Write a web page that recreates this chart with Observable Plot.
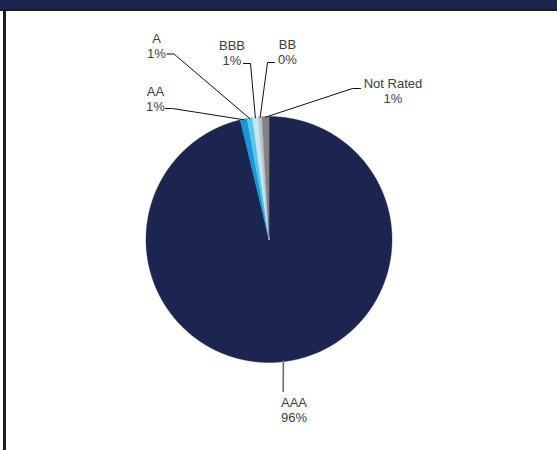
<!DOCTYPE html>
<html><head><meta charset="utf-8">
<script src="https://cdn.jsdelivr.net/npm/d3@7"></script>
<script src="https://cdn.jsdelivr.net/npm/@observablehq/plot@0.6"></script>
<style>
html,body{margin:0;padding:0;background:#fff;}
#wrap{position:relative;width:557px;height:450px;overflow:hidden;}
#chart{position:absolute;left:0;top:0;}
#band{position:absolute;left:0;top:0;width:557px;height:9px;background:#1b2550;}
#rule{position:absolute;left:0;top:9px;width:557px;height:2px;background:#1e1e1e;}
#leftrule{position:absolute;left:3px;top:9px;width:3px;height:441px;background:#1e1e1e;}
</style></head><body>
<div id="wrap"><div id="chart"></div><div id="band"></div><div id="rule"></div><div id="leftrule"></div></div>
<script>
// ---- data ----
const categories = ["AAA", "AA", "A", "BBB", "BB", "Not Rated"];
const shares = [96.25, 0.9, 0.7, 0.75, 0.49, 0.91];
const colors = ["#1b2550", "#0f9ad8", "#5ec2ec", "#c6e6f6", "#bfc0c2", "#808184"];

// ---- layout (pixel offsets from the pie centre) ----
const R = 123, CX = 268.5, CY = 239;
const labelOffset = {
  "AAA": [25, 170], "AA": [-113.5, -141], "A": [-112.5, -194],
  "BBB": [-37, -187], "BB": [18.5, -188], "Not Rated": [124, -148.5]
};
const leaderStart = {
  "AAA": [14.2, 152], "AA": [-103.5, -131], "A": [-102, -185.5],
  "BBB": [-25.5, -176], "BB": [5.5, -177], "Not Rated": [91.5, -151]
};
const elbowLen = {"AAA": 0, "AA": 7, "A": 7, "BBB": 7, "BB": -7, "Not Rated": -8};

const rows = categories.map((c, i) => ({category: c, share: shares[i], color: colors[i]}));
const pie = d3.pie().value(d => d.share).sort(null)(rows);

// slice polygons in unit coordinates (angle measured clockwise from 12 o'clock)
const slicePts = [];
for (const p of pie) {
  const c = p.data.category;
  slicePts.push({category: c, x: 0, y: 0});
  const n = Math.max(2, Math.ceil((p.endAngle - p.startAngle) / 0.005));
  for (let k = 0; k <= n; k++) {
    const a = p.startAngle + (p.endAngle - p.startAngle) * k / n;
    slicePts.push({category: c, x: Math.sin(a), y: Math.cos(a)});
  }
}

const px = (d) => [d[0] / R, -d[1] / R];
const leaderPts = [];
const labels = [];
for (const p of pie) {
  const c = p.data.category;
  const mid = (p.startAngle + p.endAngle) / 2;
  const s = leaderStart[c];
  const [sx, sy] = px(s);
  leaderPts.push({category: c, x: sx, y: sy});
  if (elbowLen[c] !== 0) {
    const [ex, ey] = px([s[0] + elbowLen[c], s[1]]);
    leaderPts.push({category: c, x: ex, y: ey});
  }
  leaderPts.push({category: c, x: Math.sin(mid) * 0.995, y: Math.cos(mid) * 0.995});
  const [lx, ly] = px(labelOffset[c]);
  labels.push({category: c, x: lx, y: ly, text: `${c}\n${p.data.share.toFixed(0)}%`});
}

const chart = Plot.plot({
  width: 557, height: 450, margin: 0,
  x: {domain: [-1, 1], range: [CX - R, CX + R], axis: null},
  y: {domain: [-1, 1], range: [CY + R, CY - R], axis: null},
  color: {domain: categories, range: colors},
  style: {fontFamily: "'Liberation Sans', Arial, sans-serif", background: "white"},
  marks: [
    Plot.line(slicePts, {x: "x", y: "y", z: "category", fill: "category", stroke: "category", strokeWidth: 0.4, curve: "linear-closed"}),
    Plot.line(leaderPts, {x: "x", y: "y", z: "category", stroke: d => d.category === "AAA" ? "#6d6e70" : "#111111", strokeWidth: d => d.category === "AAA" ? 1.6 : 1, curve: "linear"}),
    Plot.text(labels, {x: "x", y: "y", text: "text", fontSize: 13, lineHeight: 1.15, fill: "#3d3d3d"})
  ]
});
document.getElementById("chart").appendChild(chart);
</script>
</body></html>
